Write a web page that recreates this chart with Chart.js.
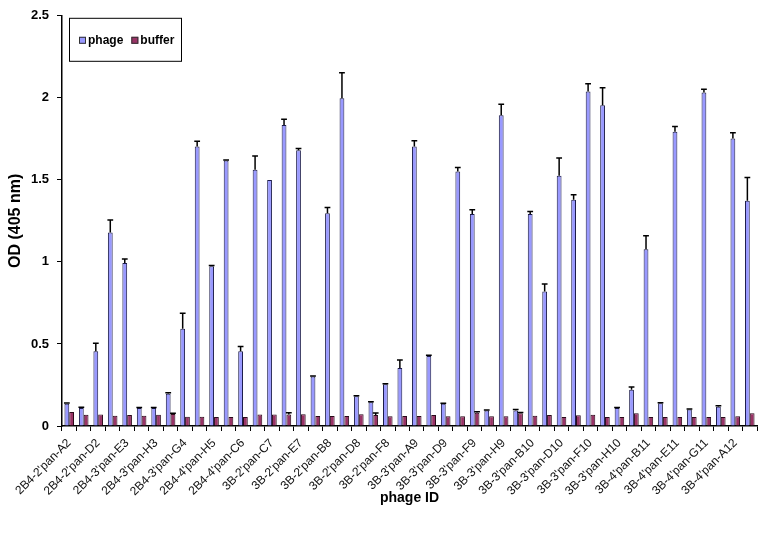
<!DOCTYPE html>
<html>
<head>
<meta charset="utf-8">
<script src="https://cdn.jsdelivr.net/npm/chart.js@4.4.0/dist/chart.umd.min.js"></script>
<style>
	html, body { margin: 0; padding: 0; background: #fff; }
	#wrap { width: 766px; height: 541px; }
</style>
</head>
<body>
<div id="wrap"><canvas id="canvasOD"></canvas></div>
<script>
/***********************************************************************************************
 * data - phage ID, OD(405 nm), error
 ***********************************************************************************************/
var phageIdList = [
	"2B4-2'pan-A2", "", "2B4-2'pan-D2", "", "2B4-3'pan-E3", "", "2B4-3'pan-H3", "", "2B4-3'pan-G4", "",
	"2B4-4'pan-H5", "", "2B4-4'pan-C6", "", "3B-2'pan-C7", "", "3B-2'pan-E7", "", "3B-2'pan-B8", "",
	"3B-2'pan-D8", "", "3B-2'pan-F8", "", "3B-3'pan-A9", "", "3B-3'pan-D9", "", "3B-3'pan-F9", "",
	"3B-3'pan-H9", "", "3B-3'pan-B10", "", "3B-3'pan-D10", "", "3B-3'pan-F10", "", "3B-3'pan-H10", "",
	"3B-4'pan-B11", "", "3B-4'pan-E11", "", "3B-4'pan-G11", "", "3B-4'pan-A12", ""
];

var phageValueList = [
	0.136, 0.11, 0.456, 1.18, 0.994, 0.11, 0.11, 0.197, 0.592, 1.703,
	0.973, 1.618, 0.456, 1.561, 1.50, 1.835, 1.681, 0.302, 1.296, 1.998,
	0.181, 0.144, 0.254, 0.353, 1.703, 0.426, 0.136, 1.551, 1.292, 0.095,
	1.894, 0.095, 1.292, 0.819, 1.525, 1.379, 2.038, 1.955, 0.11, 0.221,
	1.077, 0.138, 1.793, 0.1, 2.032, 0.118, 1.752, 1.373
];

var phageErrorList = [
	0.004, 0.004, 0.049, 0.075, 0.024, 0.003, 0.003, 0.005, 0.095, 0.033,
	0.005, 0.003, 0.028, 0.085, 0, 0.035, 0.01, 0.003, 0.036, 0.155,
	0.004, 0.004, 0.003, 0.05, 0.035, 0.005, 0.003, 0.025, 0.026, 0.003,
	0.067, 0.005, 0.016, 0.047, 0.108, 0.03, 0.048, 0.107, 0.003, 0.016,
	0.083, 0.003, 0.032, 0.003, 0.02, 0.006, 0.035, 0.142
];

var bufferValueList = [
	0.085, 0.069, 0.07, 0.063, 0.067, 0.063, 0.069, 0.073, 0.057, 0.057,
	0.055, 0.055, 0.055, 0.07, 0.07, 0.07, 0.071, 0.061, 0.061, 0.061,
	0.071, 0.067, 0.059, 0.061, 0.061, 0.067, 0.059, 0.059, 0.081, 0.059,
	0.059, 0.077, 0.063, 0.067, 0.055, 0.065, 0.069, 0.055, 0.055, 0.077,
	0.055, 0.055, 0.055, 0.055, 0.055, 0.055, 0.059, 0.077
];

var bufferErrorList = [
	0, 0, 0, 0, 0, 0, 0, 0.004, 0, 0,
	0, 0, 0, 0, 0, 0.01, 0, 0, 0, 0,
	0, 0.012, 0, 0, 0, 0, 0, 0, 0.006, 0,
	0, 0.005, 0, 0, 0, 0, 0, 0, 0, 0,
	0, 0, 0, 0, 0, 0, 0, 0
];

var yTickList = [0, 0.5, 1, 1.5, 2, 2.5];

/***********************************************************************************************
 * plugin - error bar (up only)
 ***********************************************************************************************/
var errorBarPlugin = {
	id: 'errorBar',
	afterDatasetsDraw: function(chart) {
		var ctx = chart.ctx;
		var yScale = chart.scales.y;
		ctx.save();
		ctx.strokeStyle = '#000';
		ctx.lineWidth = 1.5;
		chart.data.datasets.forEach(function(ds, di) {
			var meta = chart.getDatasetMeta(di);
			$each(meta.data, function(index, bar) {
				var err = ds.errors[index];
				if (!err) return;
				var yTop = yScale.getPixelForValue(ds.data[index] + err);
				var half = bar.width / 2 + 0.5;
				ctx.beginPath();
				ctx.moveTo(bar.x, bar.y);
				ctx.lineTo(bar.x, yTop);
				ctx.moveTo(bar.x - half, yTop);
				ctx.lineTo(bar.x + half, yTop);
				ctx.stroke();
			});
		});
		ctx.restore();
	}
};

/***********************************************************************************************
 * plugin - legend box (top left, inside chart)
 ***********************************************************************************************/
var legendBoxPlugin = {
	id: 'legendBox',
	afterDraw: function(chart) {
		var ctx = chart.ctx;
		var x = chart.chartArea.left + 7;
		var y = chart.chartArea.top + 2;
		ctx.save();
		ctx.strokeStyle = '#000';
		ctx.lineWidth = 1;
		ctx.strokeRect(x + 0.5, y + 0.5, 112, 43);
		ctx.font = 'bold 12px "Liberation Sans", Arial, sans-serif';
		ctx.textBaseline = 'middle';
		var cx = x + 10;
		chart.data.datasets.forEach(function(ds) {
			ctx.fillStyle = ds.backgroundColor;
			ctx.fillRect(cx, y + 19, 7, 7);
			ctx.strokeStyle = '#333';
			ctx.strokeRect(cx + 0.5, y + 19.5, 6, 6);
			ctx.fillStyle = '#000';
			ctx.fillText(ds.label, cx + 9, y + 23);
			cx += 9 + ctx.measureText(ds.label).width + 8;
		});
		ctx.restore();
	}
};

function $each(list, fn) {
	for (var i = 0; i < list.length; i++) fn(i, list[i]);
}

/***********************************************************************************************
 * chart
 ***********************************************************************************************/
Chart.defaults.font.family = '"Liberation Sans", Arial, sans-serif';
Chart.defaults.color = '#000';

var config = new Chart(document.getElementById('canvasOD'), {
	type: 'bar',
	data: {
		labels: phageIdList,
		datasets: [{
			label: 'phage',
			data: phageValueList,
			errors: phageErrorList,
			backgroundColor: '#9999ff',
			borderColor: '#1c1c4a',
			borderWidth: 1,
			categoryPercentage: 0.66,
			barPercentage: 1.0
		}, {
			label: 'buffer',
			data: bufferValueList,
			errors: bufferErrorList,
			backgroundColor: '#993366',
			borderColor: '#2a0a1a',
			borderWidth: 1,
			categoryPercentage: 0.66,
			barPercentage: 1.0
		}]
	},
	options: {
		responsive: true,
		maintainAspectRatio: false,
		animation: false,
		layout: {
			padding: { top: 15, right: 9, bottom: 34, left: 0 }
		},
		plugins: {
			legend: { display: false },
			tooltip: { enabled: false }
		},
		scales: {
			x: {
				grid: {
					display: true,
					drawOnChartArea: false,
					offset: true,
					tickLength: 5,
					color: '#000',
					lineWidth: 1
				},
				border: { color: '#000', width: 1.5 },
				ticks: {
					autoSkip: false,
					maxRotation: 45,
					minRotation: 45,
					padding: 5,
					font: { size: 12 },
					color: '#111'
				},
				title: {
					display: true,
					text: 'phage ID',
					font: { size: 14, weight: 'bold' },
					padding: 0
				},
				afterFit: function(scale) { scale.height = 81; }
			},
			y: {
				min: 0,
				max: 2.5,
				afterBuildTicks: function(scale) {
					scale.ticks = yTickList.map(function(v) { return { value: v }; });
				},
				grid: {
					display: true,
					drawOnChartArea: false,
					tickLength: 5,
					color: '#000',
					lineWidth: 1
				},
				border: { color: '#000', width: 1.5 },
				ticks: {
					padding: 8,
					font: { size: 13, weight: 'bold' },
					callback: function(value) { return String(value); }
				},
				title: {
					display: true,
					text: 'OD (405 nm)',
					font: { size: 16, weight: 'bold' },
					padding: { top: 6, bottom: 0 }
				},
				afterFit: function(scale) { scale.width = 62; }
			}
		}
	},
	plugins: [errorBarPlugin, legendBoxPlugin]
});
</script>
</body>
</html>
